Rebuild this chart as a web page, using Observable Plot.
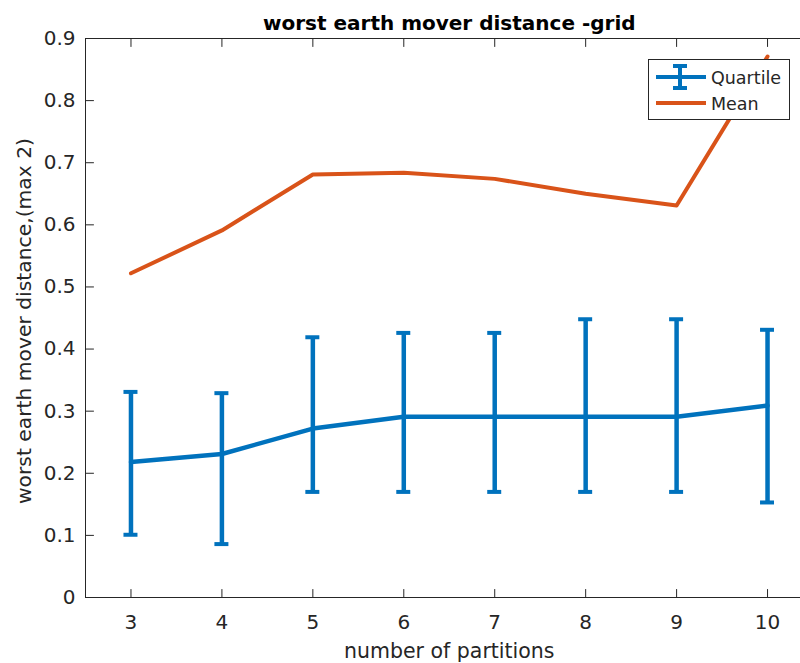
<!DOCTYPE html>
<html>
<head>
<meta charset="utf-8">
<script src="https://cdn.jsdelivr.net/npm/d3@7"></script>
<script src="https://cdn.jsdelivr.net/npm/@observablehq/plot@0.6"></script>
<style>
  html, body { margin: 0; padding: 0; background: #fff; overflow: hidden; }
  #wrap { position: relative; width: 800px; height: 663px; }
  #legend { position: absolute; left: 648px; top: 59px; }
  text { font-family: "DejaVu Sans", sans-serif; }
</style>
</head>
<body>
<div id="wrap"></div>
<script>
// ---- data ----
const partitions = [3, 4, 5, 6, 7, 8, 9, 10];
const q1 = [0.101, 0.086, 0.170, 0.170, 0.170, 0.170, 0.170, 0.153];
const median = [0.218, 0.231, 0.272, 0.291, 0.291, 0.291, 0.291, 0.309];
const q3 = [0.331, 0.329, 0.419, 0.426, 0.426, 0.448, 0.448, 0.431];
const mean = [0.522, 0.591, 0.681, 0.684, 0.674, 0.650, 0.631, 0.871];
const xTicks = [3, 4, 5, 6, 7, 8, 9, 10];
const yTicks = [0, 0.1, 0.2, 0.3, 0.4, 0.5, 0.6, 0.7, 0.8, 0.9];
const yTickLabels = ["0", "0.1", "0.2", "0.3", "0.4", "0.5", "0.6", "0.7", "0.8", "0.9"];
const xDomain = [2.5, 10.5];
const yDomain = [0, 0.9];
const titleText = "worst earth mover distance -grid";
const xLabel = "number of partitions";
const yLabel = "worst earth mover distance,(max 2)";
const seriesNames = ["Quartile", "Mean"];

const rows = partitions.map((p, i) => ({p, lo: q1[i], med: median[i], hi: q3[i], mean: mean[i]}));

const BLUE = "#0072BD", ORANGE = "#D95319", AX = "#262626";
const tickShape = {draw(ctx, l) { ctx.moveTo(0, 0); ctx.lineTo(0, -l); }};
const FONT = "DejaVu Sans";

const chart = Plot.plot({
  width: 800,
  height: 663,
  marginLeft: 85,
  marginRight: 0,
  marginTop: 38,
  marginBottom: 66,
  style: {fontFamily: FONT, background: "#fff", overflow: "hidden"},
  x: {domain: xDomain, range: [85, 812.5], axis: null},
  y: {domain: yDomain, range: [597, 38], axis: null},
  marks: [
    // frame
    Plot.ruleY([yDomain[0], yDomain[1]], {stroke: AX, strokeWidth: 1}),
    Plot.ruleX([xDomain[0]], {stroke: AX, strokeWidth: 1}),
    // ticks
    Plot.vector(xTicks, {x: d => d, y: yDomain[0], length: 8, rotate: 0, anchor: "start", shape: tickShape, stroke: AX, strokeWidth: 1}),
    Plot.vector(xTicks, {x: d => d, y: yDomain[1], length: 8, rotate: 180, anchor: "start", shape: tickShape, stroke: AX, strokeWidth: 1}),
    Plot.vector(yTicks, {x: xDomain[0], y: d => d, length: 8, rotate: 90, anchor: "start", shape: tickShape, stroke: AX, strokeWidth: 1}),
    // tick labels
    Plot.text(xTicks, {x: d => d, y: yDomain[0], text: d => String(d), dy: 31, lineAnchor: "bottom", fontSize: 20, fill: AX}),
    Plot.text(yTicks, {x: xDomain[0], y: d => d, text: (d, i) => yTickLabels[i], dx: -10, textAnchor: "end", lineAnchor: "middle", fontSize: 20, fill: AX}),
    // axis labels and title
    Plot.text([xLabel], {x: (xDomain[0] + xDomain[1]) / 2, y: yDomain[0], text: d => d, dy: 60, lineAnchor: "bottom", fontSize: 20.5, fill: AX}),
    Plot.text([yLabel], {x: xDomain[0], y: (yDomain[0] + yDomain[1]) / 2, text: d => d, dx: -55, dy: 3, rotate: -90, lineAnchor: "bottom", fontSize: 20.3, fill: AX}),
    Plot.text([titleText], {x: (xDomain[0] + xDomain[1]) / 2, y: yDomain[1], text: d => d, dy: -9, lineAnchor: "bottom", fontSize: 20, fontWeight: "bold", fill: "#000"}),
    // quartile error bars
    Plot.ruleX(rows, {x: "p", y1: "lo", y2: "hi", stroke: BLUE, strokeWidth: 4.5}),
    Plot.ruleY(rows, {y: "lo", x1: "p", x2: "p", insetLeft: -7, insetRight: -7, stroke: BLUE, strokeWidth: 4}),
    Plot.ruleY(rows, {y: "hi", x1: "p", x2: "p", insetLeft: -7, insetRight: -7, stroke: BLUE, strokeWidth: 4}),
    Plot.line(rows, {x: "p", y: "med", stroke: BLUE, strokeWidth: 4.5}),
    // mean
    Plot.line(rows, {x: "p", y: "mean", stroke: ORANGE, strokeWidth: 4})
  ]
});

const wrap = document.getElementById("wrap");
wrap.appendChild(chart);

// legend (overlay, drawn above the lines like the original)
const lg = d3.select(wrap).append("svg")
  .attr("id", "legend").attr("width", 142).attr("height", 61)
  .style("font-family", FONT);
lg.append("rect").attr("x", 0.5).attr("y", 0.5).attr("width", 141).attr("height", 60)
  .attr("fill", "#fff").attr("stroke", AX).attr("stroke-width", 1);
// Quartile sample
lg.append("line").attr("x1", 8).attr("x2", 58).attr("y1", 18).attr("y2", 18).attr("stroke", BLUE).attr("stroke-width", 4);
lg.append("line").attr("x1", 32).attr("x2", 32).attr("y1", 7).attr("y2", 29).attr("stroke", BLUE).attr("stroke-width", 4);
lg.append("line").attr("x1", 25).attr("x2", 39).attr("y1", 7).attr("y2", 7).attr("stroke", BLUE).attr("stroke-width", 4);
lg.append("line").attr("x1", 25).attr("x2", 39).attr("y1", 29).attr("y2", 29).attr("stroke", BLUE).attr("stroke-width", 4);
lg.append("text").attr("x", 63).attr("y", 24.5).attr("font-size", 17.5).attr("fill", AX).text(seriesNames[0]);
// Mean sample
lg.append("line").attr("x1", 8).attr("x2", 58).attr("y1", 44).attr("y2", 44).attr("stroke", ORANGE).attr("stroke-width", 4);
lg.append("text").attr("x", 63).attr("y", 50.5).attr("font-size", 17.5).attr("fill", AX).text(seriesNames[1]);
</script>
</body>
</html>
